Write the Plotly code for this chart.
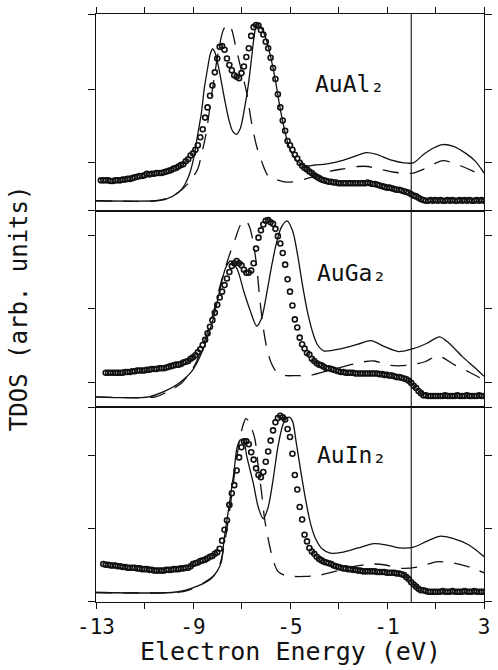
import plotly.graph_objects as go

# ---------------------------------------------------------------------------
# Total density of states of AuAl2, AuGa2 and AuIn2 (arb. units)
# Experimental spectra (open circles) on a common energy grid (eV),
# calculated TDOS (solid) and broadened TDOS (dashed).
# ---------------------------------------------------------------------------

E_GRID = [
    -12.8, -12.7, -12.6, -12.5, -12.4, -12.3, -12.2, -12.1, -12.0,
    -11.9, -11.8, -11.7, -11.6, -11.5, -11.4, -11.3, -11.2, -11.1, -11.0,
    -10.9, -10.8, -10.7, -10.6, -10.5, -10.4, -10.3, -10.2, -10.1, -10.0,
    -9.9, -9.8, -9.7, -9.6, -9.5, -9.4, -9.3, -9.2, -9.1, -9.0,
    -8.9, -8.8, -8.7, -8.6, -8.5, -8.4, -8.3, -8.2, -8.1, -8.0,
    -7.9, -7.8, -7.7, -7.6, -7.5, -7.4, -7.3, -7.2, -7.1, -7.0,
    -6.9, -6.8, -6.7, -6.6, -6.5, -6.4, -6.3, -6.2, -6.1, -6.0,
    -5.9, -5.8, -5.7, -5.6, -5.5, -5.4, -5.3, -5.2, -5.1, -5.0,
    -4.9, -4.8, -4.7, -4.6, -4.5, -4.4, -4.3, -4.2, -4.1, -4.0,
    -3.9, -3.8, -3.7, -3.6, -3.5, -3.4, -3.3, -3.2, -3.1, -3.0,
    -2.9, -2.8, -2.7, -2.6, -2.5, -2.4, -2.3, -2.2, -2.1, -2.0,
    -1.9, -1.8, -1.7, -1.6, -1.5, -1.4, -1.3, -1.2, -1.1, -1.0,
    -0.9, -0.8, -0.7, -0.6, -0.5, -0.4, -0.3, -0.2, -0.1, 0.0,
    0.1, 0.2, 0.3, 0.4, 0.5, 0.6, 0.7, 0.8, 0.9, 1.0,
    1.1, 1.2, 1.3, 1.4, 1.5, 1.6, 1.7, 1.8, 1.9, 2.0,
    2.1, 2.2, 2.3, 2.4, 2.5, 2.6, 2.7, 2.8, 2.9, 3.0,
]

# --- AuAl2 -----------------------------------------------------------------
AUAL2_EXP = [
    0.42, 0.42, 0.42, 0.42, 0.41, 0.41, 0.42, 0.42, 0.42,
    0.43, 0.43, 0.44, 0.44, 0.45, 0.46, 0.47, 0.48, 0.48, 0.49,
    0.51, 0.50, 0.51, 0.51, 0.52, 0.52, 0.52, 0.53, 0.54, 0.55,
    0.56, 0.58, 0.59, 0.61, 0.63, 0.64, 0.68, 0.71, 0.76, 0.79,
    0.84, 0.90, 1.01, 1.12, 1.28, 1.42, 1.58, 1.72, 1.90, 2.09,
    2.25, 2.26, 2.21, 2.09, 2.00, 1.93, 1.86, 1.84, 1.82, 1.89,
    1.98, 2.11, 2.23, 2.40, 2.52, 2.55, 2.54, 2.48, 2.42, 2.32,
    2.23, 2.10, 1.96, 1.81, 1.60, 1.42, 1.24, 1.10, 0.96, 0.90,
    0.84, 0.77, 0.72, 0.66, 0.62, 0.59, 0.57, 0.54, 0.52, 0.49,
    0.47, 0.45, 0.43, 0.42, 0.41, 0.40, 0.40, 0.39, 0.39, 0.38,
    0.38, 0.38, 0.38, 0.38, 0.38, 0.38, 0.38, 0.38, 0.38, 0.38,
    0.38, 0.39, 0.38, 0.37, 0.37, 0.36, 0.35, 0.34, 0.33, 0.32,
    0.32, 0.31, 0.30, 0.29, 0.29, 0.28, 0.27, 0.26, 0.25, 0.23,
    0.21, 0.20, 0.18, 0.16, 0.15, 0.14, 0.14, 0.15, 0.14, 0.15,
    0.14, 0.15, 0.14, 0.14, 0.15, 0.14, 0.15, 0.14, 0.14, 0.15,
    0.14, 0.15, 0.14, 0.15, 0.14, 0.14, 0.15, 0.14, 0.15, 0.14,
]
AUAL2_CALC_E = [-13.0, -10.55, -10.14, -9.61, -9.34, -9.13, -8.96, -8.80, -8.66,
                -8.53, -8.39, -8.29, -8.19, -8.08, -7.92, -7.72, -7.52, -7.36,
                -7.21, -7.05, -6.89, -6.71, -6.58, -6.48, -6.37, -6.17, -5.97,
                -5.77, -5.59, -5.43, -5.27, -5.09, -4.89, -4.69, -4.35, -3.95,
                -3.41, -2.87, -2.33, -1.86, -1.46, -0.85, -0.31, 0.09, 0.49,
                0.90, 1.30, 1.71, 2.25, 2.65, 3.0]
AUAL2_CALC = [0.14, 0.14, 0.16, 0.25, 0.36, 0.52, 0.74, 1.06, 1.33,
              1.69, 1.97, 2.15, 2.22, 2.16, 1.93, 1.57, 1.25, 1.09,
              1.05, 1.13, 1.38, 1.75, 2.11, 2.39, 2.55, 2.50, 2.34,
              2.07, 1.77, 1.45, 1.18, 0.93, 0.77, 0.68, 0.62, 0.63,
              0.65, 0.69, 0.75, 0.80, 0.78, 0.70, 0.66, 0.66, 0.77,
              0.86, 0.91, 0.89, 0.79, 0.68, 0.52]
AUAL2_BROAD_E = [-13.0, -10.55, -10.01, -9.47, -9.07, -8.80, -8.64, -8.46, -8.30,
                 -8.12, -7.92, -7.75, -7.59, -7.42, -7.25, -7.05, -6.78, -6.58,
                 -6.37, -6.17, -5.90, -5.57, -5.23, -4.89, -4.35, -3.81, -3.28,
                 -2.74, -2.20, -1.79, -1.39, -0.85, -0.38, 0.09, 0.49, 0.90,
                 1.30, 1.71, 2.11, 2.52, 3.0]
AUAL2_BROAD = [0.14, 0.14, 0.18, 0.29, 0.43, 0.58, 0.79, 1.06, 1.43,
               1.84, 2.25, 2.48, 2.56, 2.50, 2.27, 1.99, 1.61, 1.20,
               0.88, 0.68, 0.48, 0.43, 0.40, 0.40, 0.44, 0.49, 0.55,
               0.58, 0.61, 0.61, 0.58, 0.54, 0.52, 0.52, 0.57, 0.64,
               0.69, 0.66, 0.61, 0.55, 0.47]

# --- AuGa2 -----------------------------------------------------------------
AUGA2_EXP = [
    0.47, 0.47, 0.47, 0.47, 0.47, 0.47, 0.47,
    0.47, 0.48, 0.48, 0.48, 0.49, 0.49, 0.50, 0.50, 0.50, 0.50,
    0.51, 0.51, 0.52, 0.52, 0.52, 0.53, 0.53, 0.53, 0.54, 0.55,
    0.56, 0.57, 0.58, 0.58, 0.59, 0.61, 0.62, 0.63, 0.66, 0.68,
    0.71, 0.75, 0.79, 0.85, 0.92, 1.01, 1.10, 1.19, 1.29, 1.40,
    1.50, 1.58, 1.67, 1.76, 1.85, 1.93, 1.97, 2.00, 1.97, 1.94,
    1.88, 1.84, 1.84, 1.87, 1.97, 2.17, 2.32, 2.42, 2.50, 2.55,
    2.56, 2.53, 2.51, 2.44, 2.34, 2.24, 2.11, 1.95, 1.75, 1.58,
    1.39, 1.20, 1.09, 0.95, 0.86, 0.80, 0.74, 0.72, 0.66, 0.63,
    0.60, 0.58, 0.57, 0.55, 0.53, 0.53, 0.52, 0.51, 0.50, 0.49,
    0.48, 0.48, 0.47, 0.47, 0.47, 0.47, 0.46, 0.46, 0.46, 0.46,
    0.46, 0.46, 0.46, 0.46, 0.46, 0.46, 0.45, 0.45, 0.44, 0.44,
    0.43, 0.43, 0.42, 0.41, 0.41, 0.40, 0.39, 0.38, 0.36, 0.33,
    0.29, 0.26, 0.22, 0.19, 0.16, 0.16, 0.15, 0.15, 0.15, 0.15,
    0.15, 0.15, 0.15, 0.16, 0.15, 0.15, 0.15, 0.15, 0.16, 0.15,
    0.15, 0.15, 0.16, 0.15, 0.15, 0.15, 0.15, 0.16, 0.15, 0.15,
]
AUGA2_CALC_E = [-13.0, -10.82, -10.14, -9.61, -9.07, -8.66, -8.19, -7.92, -7.65,
                -7.45, -7.18, -6.91, -6.64, -6.37, -6.17, -5.97, -5.77, -5.57,
                -5.36, -5.12, -4.89, -4.69, -4.49, -4.29, -4.08, -3.88, -3.61,
                -2.87, -2.20, -1.66, -1.12, -0.52, 0.09, 0.63, 1.17, 1.57,
                2.11, 2.65, 3.0]
AUGA2_CALC = [0.14, 0.14, 0.22, 0.32, 0.48, 0.73, 1.18, 1.56, 1.91,
              2.00, 1.89, 1.59, 1.32, 1.11, 1.22, 1.54, 1.91, 2.23,
              2.46, 2.55, 2.41, 2.09, 1.68, 1.32, 1.04, 0.86, 0.77,
              0.80, 0.86, 0.91, 0.83, 0.76, 0.80, 0.87, 0.96, 0.87,
              0.69, 0.53, 0.42]
AUGA2_BROAD_E = [-13.0, -10.55, -10.01, -9.47, -9.00, -8.60, -8.19, -7.86, -7.52,
                 -7.25, -7.05, -6.85, -6.67, -6.51, -6.37, -6.27, -6.13, -5.97,
                 -5.77, -5.50, -5.16, -4.76, -4.22, -3.41, -2.60, -2.13, -1.53,
                 -0.85, -0.18, 0.56, 1.10, 1.77, 2.38, 3.0]
AUGA2_BROAD = [0.14, 0.14, 0.22, 0.33, 0.53, 0.83, 1.26, 1.69, 2.06,
               2.31, 2.49, 2.56, 2.47, 2.24, 1.92, 1.56, 1.15, 0.83,
               0.60, 0.46, 0.43, 0.43, 0.43, 0.50, 0.57, 0.61, 0.63,
               0.57, 0.57, 0.62, 0.70, 0.58, 0.48, 0.37]

# --- AuIn2 -----------------------------------------------------------------
AUIN2_EXP = [
    0.52, 0.51, 0.51, 0.50, 0.50, 0.50, 0.49, 0.49,
    0.48, 0.48, 0.47, 0.47, 0.47, 0.47, 0.46, 0.46, 0.45, 0.45,
    0.45, 0.44, 0.44, 0.43, 0.43, 0.43, 0.43, 0.43, 0.44, 0.44,
    0.44, 0.45, 0.45, 0.45, 0.46, 0.46, 0.47, 0.47, 0.49, 0.52,
    0.53, 0.54, 0.56, 0.57, 0.58, 0.60, 0.62, 0.63, 0.66, 0.68,
    0.73, 0.84, 0.99, 1.12, 1.33, 1.49, 1.60, 1.80, 1.98, 2.12,
    2.20, 2.20, 2.16, 2.05, 1.95, 1.83, 1.74, 1.71, 1.78, 1.92,
    2.06, 2.21, 2.35, 2.46, 2.52, 2.55, 2.53, 2.50, 2.37, 2.26,
    2.03, 1.74, 1.54, 1.30, 1.13, 0.92, 0.83, 0.74, 0.69, 0.66,
    0.62, 0.59, 0.57, 0.55, 0.54, 0.53, 0.52, 0.50, 0.49, 0.48,
    0.47, 0.46, 0.46, 0.45, 0.45, 0.44, 0.44, 0.43, 0.43, 0.42,
    0.42, 0.42, 0.42, 0.42, 0.42, 0.41, 0.41, 0.41, 0.41, 0.40,
    0.40, 0.40, 0.40, 0.39, 0.39, 0.38, 0.37, 0.34, 0.31, 0.27,
    0.24, 0.21, 0.18, 0.16, 0.16, 0.15, 0.14, 0.14, 0.14, 0.14,
    0.14, 0.14, 0.15, 0.14, 0.14, 0.14, 0.15, 0.14, 0.14, 0.14,
    0.14, 0.15, 0.14, 0.14, 0.14, 0.15, 0.14, 0.14, 0.14, 0.14,
]
AUIN2_CALC_E = [-13.0, -9.88, -9.34, -8.80, -8.26, -7.99, -7.83, -7.72, -7.52,
                -7.32, -7.18, -7.05, -6.91, -6.78, -6.51, -6.31, -6.10, -5.90,
                -5.70, -5.50, -5.30, -5.16, -5.03, -4.89, -4.76, -4.56, -4.35,
                -4.15, -3.95, -3.68, -3.34, -2.87, -2.20, -1.53, -0.99, -0.45,
                0.09, 0.63, 1.17, 1.71, 2.38, 3.0]
AUIN2_CALC = [0.13, 0.13, 0.16, 0.22, 0.32, 0.43, 0.55, 0.85, 1.30,
              1.76, 2.12, 2.22, 2.20, 1.99, 1.62, 1.30, 1.14, 1.30,
              1.67, 2.12, 2.42, 2.51, 2.53, 2.47, 2.22, 1.80, 1.39,
              1.07, 0.87, 0.73, 0.67, 0.68, 0.74, 0.80, 0.78, 0.74,
              0.75, 0.83, 0.90, 0.87, 0.78, 0.62]
AUIN2_BROAD_E = [-13.0, -9.74, -9.20, -8.73, -8.12, -7.86, -7.65, -7.45, -7.25,
                 -7.05, -6.91, -6.82, -6.71, -6.58, -6.44, -6.31, -6.17, -6.04,
                 -5.86, -5.70, -5.50, -5.16, -4.35, -3.75, -3.01, -2.47, -1.66,
                 -1.12, -0.38, 0.29, 1.03, 1.64, 2.38, 3.0]
AUIN2_BROAD = [0.13, 0.13, 0.16, 0.23, 0.37, 0.55, 0.90, 1.35, 1.85,
               2.27, 2.45, 2.51, 2.48, 2.38, 2.22, 1.85, 1.49, 1.12,
               0.80, 0.58, 0.42, 0.36, 0.35, 0.37, 0.43, 0.48, 0.52,
               0.51, 0.46, 0.48, 0.55, 0.54, 0.48, 0.40]

PANELS = [
    ("AuAl₂", AUAL2_EXP, 0, AUAL2_CALC_E, AUAL2_CALC, AUAL2_BROAD_E, AUAL2_BROAD),
    ("AuGa₂", AUGA2_EXP, 2, AUGA2_CALC_E, AUGA2_CALC, AUGA2_BROAD_E, AUGA2_BROAD),
    ("AuIn₂", AUIN2_EXP, 1, AUIN2_CALC_E, AUIN2_CALC, AUIN2_BROAD_E, AUIN2_BROAD),
]

X_MAJOR = [-13, -9, -5, -1, 3]
X_MAJOR_TEXT = ["-13", "-9", "-5", "-1", "3"]
X_MINOR = [-11, -7, -3, 1]

# panel geometry: vertical domains, value ranges, tick positions, label anchors
DOMAINS = [[0.665, 1.0], [0.3316, 0.665], [0.0, 0.3316]]
Y_RANGES = [[0, 2.70], [0, 2.685], [0, 2.67]]
Y_TICKS = [[0, 0.671, 1.671, 2.70], [0, 0.342, 1.356, 2.356], [0, 1.0, 2.0]]
LABEL_POS = [(-4.05, 1.74), (-3.95, 1.83), (-3.95, 2.01)]

FONT = "DejaVu Sans Mono"
INK = "#111111"

fig = go.Figure()

for i, (name, exp, start, ce, cv, be, bv) in enumerate(PANELS):
    xa = "x" if i == 0 else f"x{i + 1}"
    ya = "y" if i == 0 else f"y{i + 1}"
    fig.add_trace(go.Scatter(
        x=ce, y=cv, xaxis=xa, yaxis=ya, mode="lines",
        line=dict(color=INK, width=1.3, shape="spline", smoothing=0.8),
        showlegend=False, hoverinfo="skip"))
    fig.add_trace(go.Scatter(
        x=be, y=bv, xaxis=xa, yaxis=ya, mode="lines",
        line=dict(color=INK, width=1.3, dash="16px,11px", shape="spline", smoothing=0.8),
        showlegend=False, hoverinfo="skip"))
    fig.add_trace(go.Scatter(
        x=E_GRID[start:], y=exp, xaxis=xa, yaxis=ya, mode="markers",
        marker=dict(symbol="circle-open", size=5, color=INK, line=dict(width=1.6, color=INK)),
        showlegend=False, hoverinfo="skip"))
    lx, ly = LABEL_POS[i]
    fig.add_annotation(x=lx, y=ly, xref=xa, yref=ya, text=name, showarrow=False,
                       xanchor="left", yanchor="middle",
                       font=dict(family=FONT, size=23, color=INK))

axis_common = dict(showgrid=False, zeroline=False, showline=True, linecolor=INK,
                   linewidth=1.3, range=[-13, 3], domain=[0, 1])
minor_ticks = dict(tickvals=X_MINOR, ticks="outside", ticklen=6, tickwidth=1.2,
                   tickcolor=INK, showgrid=False)

fig.update_layout(
    xaxis=dict(**axis_common, anchor="y", side="top", mirror=True, ticks="outside",
               tickvals=X_MAJOR, ticklen=6, tickwidth=1.2, tickcolor=INK,
               showticklabels=False, minor=minor_ticks),
    xaxis2=dict(**axis_common, anchor="y2", mirror=True, ticks="", showticklabels=False),
    xaxis3=dict(**axis_common, anchor="y3", mirror=True, ticks="outside",
                tickvals=X_MAJOR, ticktext=X_MAJOR_TEXT, ticklen=6, tickwidth=1.2,
                tickcolor=INK, tickfont=dict(family=FONT, size=21, color=INK),
                minor=minor_ticks),
)

for i in range(3):
    key = "yaxis" if i == 0 else f"yaxis{i + 1}"
    xa = "x" if i == 0 else f"x{i + 1}"
    fig.layout[key] = dict(domain=DOMAINS[i], range=Y_RANGES[i], anchor=xa,
                           showgrid=False, zeroline=False, showline=True,
                           linecolor=INK, linewidth=1.3, mirror="ticks",
                           ticks="outside", tickvals=Y_TICKS[i], ticklen=7,
                           tickwidth=1.2, tickcolor=INK, showticklabels=False)

# Fermi level
fig.add_shape(type="line", xref="x3", yref="paper", x0=0, x1=0, y0=0, y1=1,
              line=dict(color=INK, width=1.1))

fig.add_annotation(text="Electron Energy (eV)", xref="paper", yref="paper",
                   x=0.5, y=-0.085, xanchor="center", yanchor="middle",
                   showarrow=False, font=dict(family=FONT, size=25, color=INK))
fig.add_annotation(text="TDOS (arb. units)", xref="paper", yref="paper",
                   x=-0.198, y=0.5, xanchor="center", yanchor="middle",
                   textangle=-90, showarrow=False,
                   font=dict(family=FONT, size=24, color=INK))

fig.update_layout(width=498, height=670,
                  margin=dict(l=96, r=6, t=14, b=68),
                  paper_bgcolor="white", plot_bgcolor="white")

fig.write_html("out.html")
